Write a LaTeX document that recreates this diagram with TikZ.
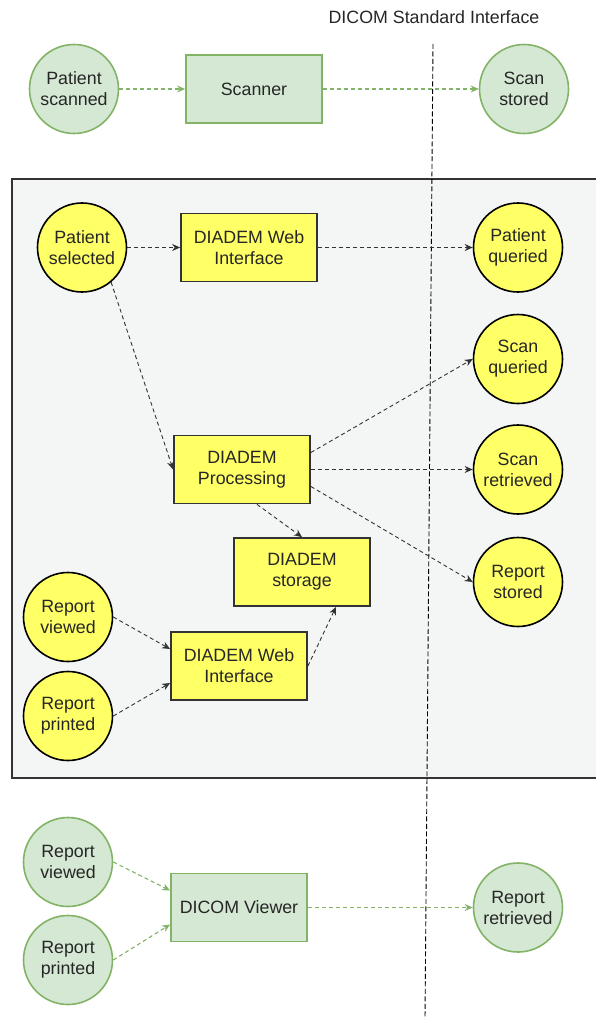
\documentclass[tikz,border=0pt]{standalone}
\usepackage{fontspec}
\setmainfont{Liberation Sans}
\usetikzlibrary{arrows.meta, positioning, calc}

\definecolor{greenfill}{HTML}{D5E8D4}
\definecolor{greenline}{HTML}{82B366}
\definecolor{yellowfill}{HTML}{FFFF66}
\definecolor{panelfill}{HTML}{F4F5F5}
\definecolor{darkline}{HTML}{333333}
\definecolor{labelgray}{HTML}{262626}

\tikzset{
  event/.style={circle, minimum size=89pt, inner sep=0pt, align=center,
    line width=1.6pt, text=labelgray},
  greenevent/.style={event, draw=greenline, fill=greenfill},
  yellowevent/.style={event, draw=black, fill=yellowfill},
  process/.style={rectangle, minimum width=136pt, minimum height=68pt,
    inner sep=0pt, align=center, line width=1.8pt, text=labelgray},
  greenprocess/.style={process, draw=greenline, fill=greenfill},
  yellowprocess/.style={process, draw=darkline, fill=yellowfill},
  greenflow/.style={draw=greenline, line width=1.1pt, dash pattern=on 4pt off 3pt,
    -{Stealth[length=8pt,width=7pt]}},
  blackflow/.style={draw=black!80, line width=0.9pt, dash pattern=on 4pt off 3pt,
    -{Stealth[length=8pt,width=7pt]}},
}

\begin{document}
\begin{tikzpicture}[x=1pt, y=-1pt, font=\fontsize{17.8}{21}\selectfont]
  \useasboundingbox (0,0) rectangle (596,1019);

  % panel round the DIADEM part
  \draw[darkline, fill=panelfill, line width=1.8pt] (12,179) rectangle (612,778);

  % interface line
  \node[text=labelgray] (iflabel) at (434,17) {DICOM Standard Interface};
  \draw[black, line width=0.9pt, dash pattern=on 5pt off 2.5pt] (433,44) -- (425,1019);

  % scanning
  \node[greenevent] (pscanned) at (74,89) {Patient\\scanned};
  \node[greenprocess] (scanner) at (254,89) {Scanner};
  \node[greenevent] (sstored) at (524,89) {Scan\\stored};
  \draw[greenflow] (pscanned) -- (scanner);
  \draw[greenflow] (scanner) -- (sstored);

  % DIADEM
  \node[yellowevent] (pselected) at (82,247.5) {Patient\\selected};
  \node[yellowprocess] (webtop) at (249,247.5) {DIADEM Web\\Interface};
  \node[yellowevent] (pqueried) at (518,247.5) {Patient\\queried};
  \node[yellowevent] (squeried) at (518,359) {Scan\\queried};
  \node[yellowevent] (sretrieved) at (518,469.5) {Scan\\retrieved};
  \node[yellowevent] (rstored) at (518,582) {Report\\stored};
  \node[yellowprocess] (proc) at (242,469.5) {DIADEM\\Processing};
  \node[yellowprocess] (store) at (302,572) {DIADEM\\storage};
  \node[yellowevent] (rviewed) at (68,617) {Report\\viewed};
  \node[yellowevent] (rprinted) at (68,716) {Report\\printed};
  \node[yellowprocess] (webbot) at (239,666) {DIADEM Web\\Interface};

  \draw[blackflow] (pselected) -- (webtop);
  \draw[blackflow] (webtop) -- (pqueried);
  \draw[blackflow] (pselected.-50) -- (proc.west);
  \draw[blackflow] ($(proc.east)+(0,-17)$) -- (squeried.west);
  \draw[blackflow] (proc.east) -- (sretrieved.west);
  \draw[blackflow] ($(proc.east)+(0,17)$) -- (rstored.west);
  \draw[blackflow] ($(proc.south)+(15,0)$) -- (store.north);
  \draw[blackflow] (rviewed.east) -- ($(webbot.west)+(0,-17)$);
  \draw[blackflow] (rprinted.east) -- ($(webbot.west)+(0,17)$);
  \draw[blackflow] (webbot.east) -- ($(store.south)+(34,0)$);

  % viewing
  \node[greenevent] (gviewed) at (68,862) {Report\\viewed};
  \node[greenevent] (gprinted) at (68,960) {Report\\printed};
  \node[greenprocess] (viewer) at (239,907.5) {DICOM Viewer};
  \node[greenevent] (rretrieved) at (518,907.5) {Report\\retrieved};
  \draw[greenflow] (gviewed.east) -- ($(viewer.west)+(0,-17)$);
  \draw[greenflow] (gprinted.east) -- ($(viewer.west)+(0,17)$);
  \draw[greenflow] (viewer) -- (rretrieved);
\end{tikzpicture}
\end{document}
